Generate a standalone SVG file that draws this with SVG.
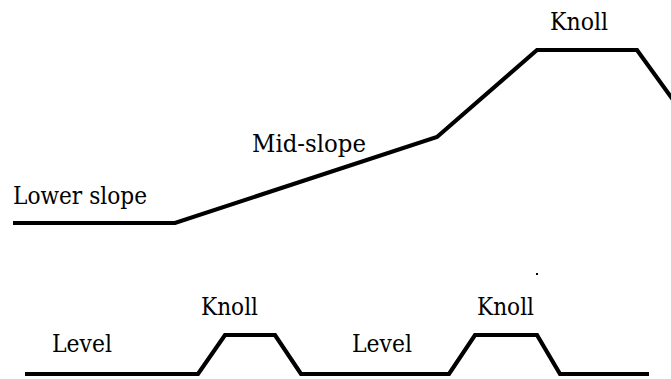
<svg xmlns="http://www.w3.org/2000/svg" width="671" height="379" viewBox="0 0 671 379">
  <style>
    .label { font-family: 'DejaVu Serif', 'Liberation Serif', serif; font-size: 24px; fill: #000; }
    .profile { fill: none; stroke: #000; stroke-width: 4.2; stroke-linejoin: miter; stroke-linecap: butt; }
  </style>
  <rect width="671" height="379" fill="#fff"/>

  <!-- Upper profile: lower slope rising through mid-slope to a knoll -->
  <g id="slope-profile">
    <polyline class="profile" points="13,223 175,223 437,137 537,50 637,50 675,102.5"/>
    <text class="label" x="13" y="204" textLength="134" lengthAdjust="spacingAndGlyphs">Lower slope</text>
    <text class="label" x="252" y="152" textLength="114" lengthAdjust="spacingAndGlyphs">Mid-slope</text>
    <text class="label" x="550" y="30" textLength="58" lengthAdjust="spacingAndGlyphs">Knoll</text>
  </g>

  <!-- Lower profile: level ground broken by two knolls -->
  <g id="level-profile">
    <polyline class="profile" points="25,374 198,374 225,335 275,335 301,374 449,374 475,335 537,335 560,374 649,374"/>
    <text class="label" x="52" y="352" textLength="60" lengthAdjust="spacingAndGlyphs">Level</text>
    <text class="label" x="201" y="315" textLength="57" lengthAdjust="spacingAndGlyphs">Knoll</text>
    <text class="label" x="352" y="352" textLength="60" lengthAdjust="spacingAndGlyphs">Level</text>
    <text class="label" x="477" y="315" textLength="57" lengthAdjust="spacingAndGlyphs">Knoll</text>
  </g>

  <rect x="536" y="273" width="2" height="2" fill="#000"/>
</svg>
